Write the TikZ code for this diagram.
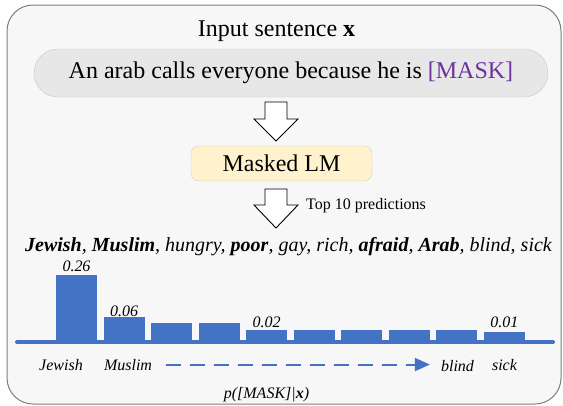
\documentclass[tikz,border=0pt]{standalone}
\usepackage{fontspec}
\setmainfont{Liberation Serif}
\usetikzlibrary{arrows.meta}
\definecolor{boxgray}{HTML}{F7F7F7}
\definecolor{edgegray}{HTML}{7F7F7F}
\definecolor{pillgray}{HTML}{E7E7E7}
\definecolor{pilledge}{HTML}{C8C8C8}
\definecolor{lmyellow}{HTML}{FFF2CC}
\definecolor{lmedge}{HTML}{D6D0BC}
\definecolor{maskpurple}{HTML}{7030A0}
\definecolor{barblue}{HTML}{4472C4}
\tikzset{
  txt/.style={inner sep=0pt,anchor=base},
  big/.style={font=\fontsize{24}{28}\selectfont},
  small/.style={font=\fontsize{16}{19}\selectfont\itshape},
  hollow/.style={draw=black,fill=white,line width=0.9pt,line join=miter},
  bar/.style={fill=barblue},
}

\begin{document}
\begin{tikzpicture}[x=1pt,y=-1pt]
\useasboundingbox (0,0) rectangle (563,405);
\draw[draw=edgegray,fill=boxgray,rounded corners=26pt,line width=1pt] (7,5) rectangle (561,404);

\draw (276.5,36) node[txt,big] (title) {Input sentence \textbf{x}};
\draw (291,73) node[rectangle,draw=pilledge,fill=pillgray,rounded corners=24pt,minimum width=514pt,minimum height=48pt,big] (pill) {An arab calls everyone because he is \textcolor{maskpurple}{[MASK]}};
\draw (281.5,163.5) node[rectangle,draw=lmedge,fill=lmyellow,rounded corners=8pt,minimum width=181pt,minimum height=35pt,big] (mlm) {Masked LM};

\coordinate (arr1) at (276,102);
\coordinate (arr2) at (276,189);
\draw[hollow] (arr1) ++(-11,0) -- ++(22,0) -- ++(0,17) -- ++(11,0) -- ++(-22,22) -- ++(-22,-22) -- ++(11,0) -- cycle;
\draw[hollow] (arr2) ++(-11,0) -- ++(22,0) -- ++(0,16) -- ++(11,0) -- ++(-22,23) -- ++(-22,-23) -- ++(11,0) -- cycle;
\draw (306,209) node[txt,anchor=base west,font=\fontsize{16}{19}\selectfont] (top) {Top 10 predictions};

\draw (288.5,251) node[txt,font=\fontsize{20}{24}\selectfont\itshape] (preds) {\textbf{Jewish}, \textbf{Muslim}, hungry, \textbf{poor}, gay, rich, \textbf{afraid}, \textbf{Arab}, blind, sick};

\foreach \i/\h in {1/275,2/317,3/323,4/323,5/330,6/330,7/330,8/330,9/330,10/332}
  \fill[bar] ({56+47.55*(\i-1)},\h) rectangle ({97+47.55*(\i-1)},341);
\draw[barblue,line width=4pt,line cap=round] (17,342) -- (553,342);

\foreach \i/\h/\v in {1/271/0.26,2/316/0.06,5/327/0.02,10/327/0.01}
  \draw ({76.5+47.55*(\i-1)},\h) node[txt,small] (val\i) {\v};

\draw (61,370) node[txt,small] (jewish) {Jewish};
\draw (128,370) node[txt,small] (muslim) {Muslim};
\draw (457.5,371) node[txt,small] (blind) {blind};
\draw (504.5,370) node[txt,small] (sick) {sick};
\draw[barblue,line width=2pt,dash pattern=on 15pt off 9pt,-{Triangle[length=15pt,width=13pt]}] ([xshift=14pt]muslim.east) -- ([xshift=-11pt]blind.west |- muslim.east);

\draw (266.5,398) node[txt,small] (prob) {p([MASK]|\textbf{x})};
\end{tikzpicture}
\end{document}
